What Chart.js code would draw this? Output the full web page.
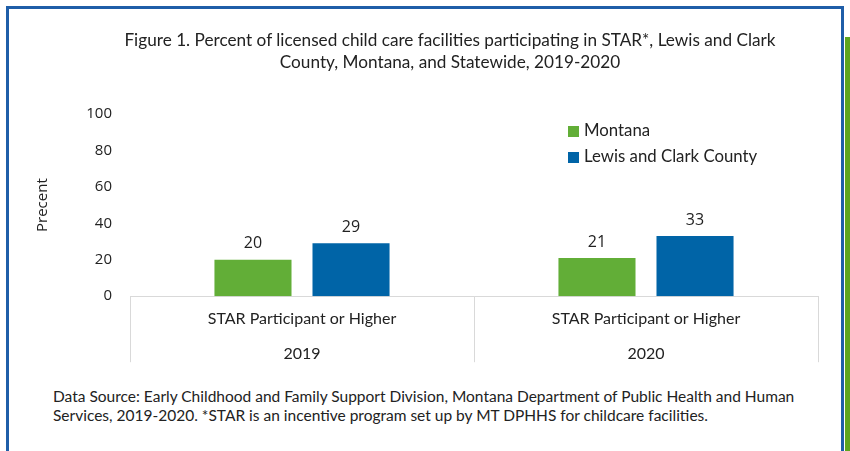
<!DOCTYPE html>
<html>
<head>
<meta charset="utf-8">
<script src="https://cdn.jsdelivr.net/npm/chart.js@4.4.1/dist/chart.umd.min.js"></script>
<style>
    html, body { margin: 0; padding: 0; background: #fff; }
    body { width: 850px; height: 451px; position: relative; overflow: hidden; }
    .frame {
        position: absolute; left: 6px; top: 6px; width: 832px; height: 460px;
        border: 3px solid #1f5ea8; border-bottom: none;
    }
    .side { position: absolute; left: 845px; top: 37px; width: 5px; height: 420px; background: #5ea51e; }
    #wrap { position: absolute; left: 0; top: 0; width: 850px; height: 387px; }
    .title {
        position: absolute; left: 50px; top: 29px; width: 800px; text-align: center;
        font-family: Lato, sans-serif; font-size: 17.2px; line-height: 22px; color: #222;
    }
    .note {
        position: absolute; left: 53px; top: 387px; width: 790px;
        font-family: Lato, sans-serif; font-size: 15.5px; line-height: 19px; color: #222;
    }
</style>
</head>
<body>
<div class="frame"></div>
<div class="side"></div>
<div id="wrap"><canvas id="chart"></canvas></div>
<div class="title" id="title"></div>
<div class="note">Data Source: Early Childhood and Family Support Division, Montana Department of Public Health and Human<br>Services, 2019-2020. *STAR is an incentive program set up by MT DPHHS for childcare facilities.</div>
<script>
const titleLines = ['Figure 1. Percent of licensed child care facilities participating in STAR*, Lewis and Clark', 'County, Montana, and Statewide, 2019-2020'];
const categories = [['STAR Participant or Higher', '', '2019'], ['STAR Participant or Higher', '', '2020']];
const montana = [20, 21];
const lewisClark = [29, 33];
const seriesNames = ['Montana', 'Lewis and Clark County'];
const seriesColors = ['#62ae37', '#0064a7'];

document.getElementById('title').innerHTML = titleLines.join('<br>');

// numbers above the bars
const valueLabels = {
    id: 'valueLabels',
    afterDatasetsDraw(chart) {
        const ctx = chart.ctx;
        ctx.save();
        ctx.font = '16px "Open Sans", sans-serif';
        ctx.fillStyle = '#222';
        ctx.textAlign = 'center';
        ctx.textBaseline = 'bottom';
        chart.data.datasets.forEach((ds, i) => {
            chart.getDatasetMeta(i).data.forEach((bar, j) => {
                ctx.fillText(ds.data[j], bar.x, bar.y - 8);
            });
        });
        ctx.restore();
    }
};

// legend boxes inside the plot, top right
const boxLegend = {
    id: 'boxLegend',
    afterDraw(chart) {
        const ctx = chart.ctx;
        const x = 568, y0 = 131, step = 26;
        ctx.save();
        ctx.font = '16.8px Lato, sans-serif';
        ctx.textBaseline = 'middle';
        chart.data.datasets.forEach((ds, i) => {
            const y = y0 + i * step;
            ctx.fillStyle = ds.backgroundColor;
            ctx.fillRect(x, y - 5, 11, 11);
            ctx.fillStyle = '#222';
            ctx.fillText(ds.label, x + 16, y);
        });
        ctx.restore();
    }
};

// table-like separators under the x axis
const categoryLines = {
    id: 'categoryLines',
    afterDraw(chart) {
        const xs = chart.scales.x;
        const n = chart.data.labels.length;
        const w = xs.width / n;
        const ctx = chart.ctx;
        ctx.save();
        ctx.strokeStyle = '#d9d9d9';
        ctx.lineWidth = 1;
        ctx.beginPath();
        for (let i = 0; i <= n; i++) {
            const x = Math.round(xs.left + i * w) + 0.5;
            ctx.moveTo(x, xs.top);
            ctx.lineTo(x, xs.top + 66);
        }
        ctx.stroke();
        ctx.restore();
    }
};

new Chart(document.getElementById('chart'), {
    type: 'bar',
    data: {
        labels: categories,
        datasets: [
            { label: seriesNames[0], data: montana, backgroundColor: seriesColors[0] },
            { label: seriesNames[1], data: lewisClark, backgroundColor: seriesColors[1] }
        ]
    },
    options: {
        responsive: true,
        maintainAspectRatio: false,
        animation: false,
        categoryPercentage: 0.57,
        barPercentage: 0.786,
        layout: { padding: { left: 28, right: 32, top: 114, bottom: 18 } },
        plugins: {
            legend: { display: false },
            tooltip: { enabled: false },
            title: { display: false }
        },
        scales: {
            y: {
                min: 0,
                max: 100,
                ticks: { stepSize: 20, padding: 10, color: '#222', font: { family: '"Open Sans", sans-serif', size: 15 } },
                grid: { display: false },
                border: { display: false },
                title: { display: true, text: 'Precent', color: '#222', padding: { top: 6, bottom: 0 }, font: { family: '"Open Sans", sans-serif', size: 15 } },
                afterFit(scale) { scale.width = 102; }
            },
            x: {
                grid: { display: false },
                border: { display: true, color: '#d9d9d9' },
                ticks: { padding: 6, maxRotation: 0, autoSkip: false, color: '#222', font: { family: 'Lato, sans-serif', size: 16, lineHeight: 1.1 } }
            }
        }
    },
    plugins: [valueLabels, boxLegend, categoryLines]
});
</script>
</body>
</html>
